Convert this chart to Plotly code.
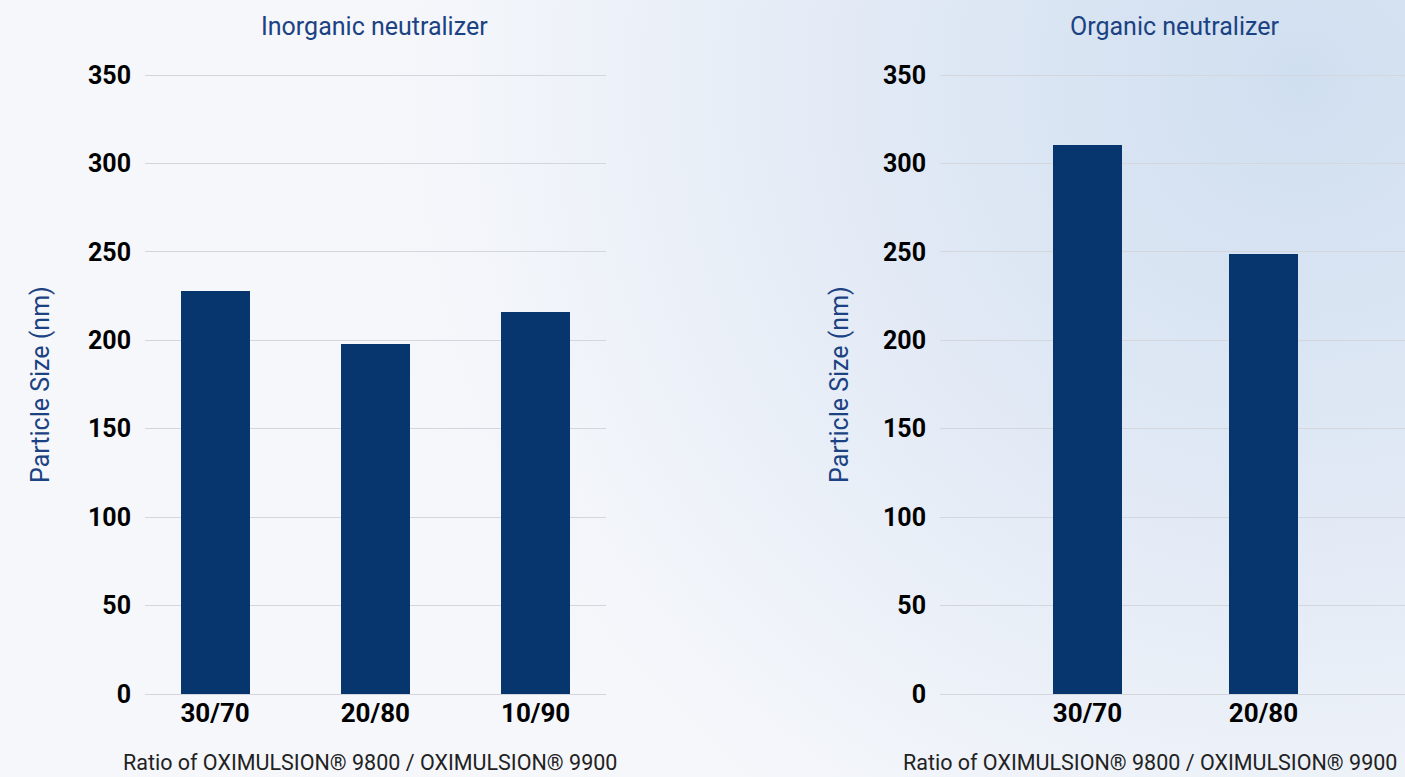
import base64
import plotly.graph_objects as go

# ---- data ----
inorganic_ratios = ["30/70", "20/80", "10/90"]
inorganic_sizes = [228, 198, 216]
organic_ratios = ["30/70", "20/80"]
organic_sizes = [310.5, 249]
y_ticks = [0, 50, 100, 150, 200, 250, 300, 350]

title_left = "Inorganic neutralizer"
title_right = "Organic neutralizer"
y_title = "Particle Size (nm)"
x_title = "Ratio of OXIMULSION® 9800 / OXIMULSION® 9900"

W, H = 1405, 777
BAR = "#07366f"
BLUE_TXT = "#1b4282"
GRID = "#d3d7dd"
FONT = "Roboto"

fig = go.Figure()
fig.add_trace(go.Bar(x=inorganic_ratios, y=inorganic_sizes, marker_color=BAR,
                     marker_line_width=0, width=0.43, xaxis="x", yaxis="y",
                     showlegend=False))
fig.add_trace(go.Bar(x=organic_ratios, y=organic_sizes, marker_color=BAR,
                     marker_line_width=0, width=0.392, xaxis="x2", yaxis="y2",
                     showlegend=False))

# background gradient as svg image
svg = f'''<svg xmlns="http://www.w3.org/2000/svg" width="{W}" height="{H}" preserveAspectRatio="none">
<defs>
<radialGradient id="g" cx="1300" cy="80" r="950" gradientUnits="userSpaceOnUse">
<stop offset="0" stop-color="#d0dff0"/>
<stop offset="0.45" stop-color="#e1e9f5"/>
<stop offset="0.85" stop-color="#f2f5fa"/>
<stop offset="1" stop-color="#f6f7fb"/>
</radialGradient>
</defs>
<rect width="{W}" height="{H}" fill="#f6f7fb"/>
<rect width="{W}" height="{H}" fill="url(#g)"/>
</svg>'''
src = "data:image/svg+xml;base64," + base64.b64encode(svg.encode()).decode()

# pixel geometry: value 0 at y=694, value 350 at y=75
Y_MAX = 353
px_per_unit = (694 - 75) / 350
top_px = 694 - Y_MAX * px_per_unit
y0 = (H - 694) / H
y1 = (H - top_px) / H

axis_common_y = dict(range=[0, Y_MAX], tickvals=y_ticks, showgrid=True, gridcolor=GRID,
                     gridwidth=1, zeroline=True, zerolinecolor=GRID, zerolinewidth=1,
                     showline=False, ticks="", ticklabelstandoff=13, automargin=False,
                     tickfont=dict(family=FONT, size=25, color="#000000", weight="bold"),
                     domain=[y0, y1], fixedrange=True)
axis_common_x = dict(type="category", showgrid=False, zeroline=False, showline=False,
                     ticks="", ticklabelstandoff=1, automargin=False,
                     tickfont=dict(family=FONT, size=26, color="#000000", weight="bold"),
                     fixedrange=True)

fig.update_layout(
    width=W, height=H, autosize=False,
    margin=dict(l=0, r=0, t=0, b=0, pad=0),
    paper_bgcolor="#f6f7fb",
    plot_bgcolor="rgba(0,0,0,0)",
    bargap=0,
    images=[dict(source=src, xref="paper", yref="paper", x=0, y=1, sizex=1, sizey=1,
                 sizing="stretch", layer="below", xanchor="left", yanchor="top")],
    xaxis=dict(domain=[145 / W, 606 / W], range=[-0.437, 2.439], anchor="y",
               **axis_common_x),
    yaxis=dict(anchor="x", **axis_common_y),
    xaxis2=dict(domain=[940 / W, 1.0], range=[-0.838, 1.804], anchor="y2",
                **axis_common_x),
    yaxis2=dict(anchor="x2", **axis_common_y),
)

def ann(text, x, y, size, color, angle=0, weight="normal"):
    fig.add_annotation(text=text, x=x / W, y=1 - y / H, xref="paper", yref="paper",
                       showarrow=False, textangle=angle, xanchor="center",
                       yanchor="middle",
                       font=dict(family=FONT, size=size, color=color, weight=weight))

ann(title_left, 375, 26, 25, BLUE_TXT)
ann(title_right, 1174, 26, 25, BLUE_TXT)
ann(y_title, 40, 385, 25, BLUE_TXT, angle=-90)
ann(y_title, 839, 385, 25, BLUE_TXT, angle=-90)
ann(x_title, 370, 762, 21.5, "#222222")
ann(x_title, 1150, 762, 21.5, "#222222")

fig.write_html("out.html")
